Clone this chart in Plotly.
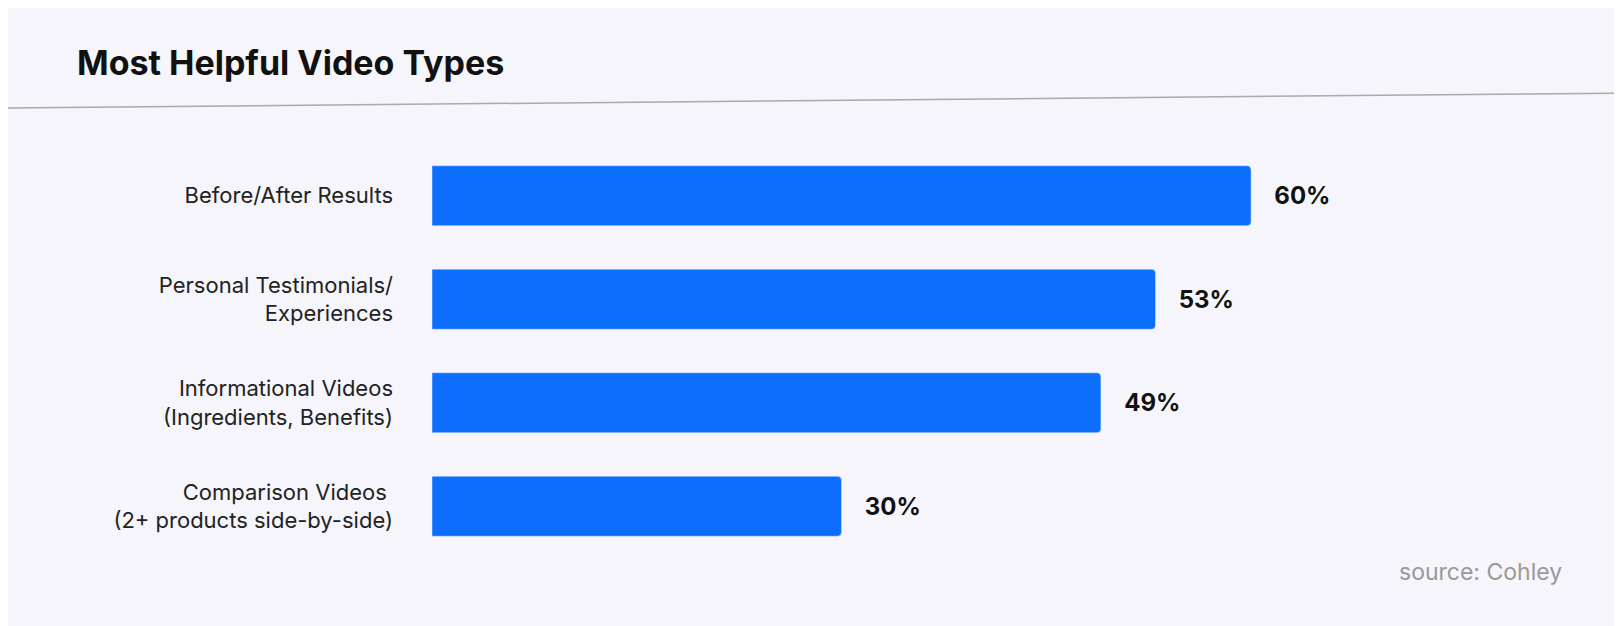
import plotly.graph_objects as go

categories = ["Before/After Results", "Personal Testimonials/<br>Experiences",
              "Informational Videos<br>(Ingredients, Benefits)",
              "Comparison Videos <br>(2+ products side-by-side)"]
values = [60, 53, 49, 30]
labels = ["60%", "53%", "49%", "30%"]

W, H = 1622, 626
bg = "#f5f5fb"
L, R, T, B = 424, 24, 136, 76
PW, PH = W - L - R, H - T - B

fig = go.Figure()
fig.add_trace(go.Bar(
    x=values, y=categories, orientation="h",
    marker=dict(color="#0d6efd", cornerradius=4),
    width=0.58,
    text=["\u00a0\u00a0\u00a0<b>%s</b>" % t for t in labels],
    textposition="outside", cliponaxis=False,
    textfont=dict(family="Inter", size=24, color="#111"),
    hoverinfo="skip",
))

fig.update_layout(
    width=W, height=H,
    paper_bgcolor="white", plot_bgcolor=bg,
    margin=dict(l=L, r=R, t=T, b=B),
    showlegend=False,
    font=dict(family="Inter", color="#222"),
    xaxis=dict(range=[0, 86], visible=False),
    yaxis=dict(autorange="reversed", showgrid=False, zeroline=False,
               tickfont=dict(size=22, color="#222"), ticklabelstandoff=38),
    shapes=[
        dict(type="rect", xref="x domain", yref="y domain", x0=-L/PW, x1=1+R/PW,
             y0=-B/PH, y1=1+T/PH, fillcolor=bg, line=dict(width=0), layer="below"),
        dict(type="line", xref="x domain", yref="y domain", x0=-L/PW, x1=1+R/PW,
             y0=1+(T-100)/PH, y1=1+(T-85)/PH, line=dict(color="#aaaaaa", width=1.5)),
    ],
    annotations=[
        dict(text="<b>Most Helpful Video Types</b>", xref="paper", yref="paper",
             x=-(L-67)/PW, y=1+(T-54)/PH, xanchor="left", yanchor="middle",
             showarrow=False, font=dict(size=34, color="#111")),
        dict(text="source: Cohley", xref="paper", yref="paper",
             x=(1556-L)/PW, y=-(564-(H-B))/PH, xanchor="right", yanchor="middle",
             showarrow=False, font=dict(size=23, color="#999")),
    ],
)

fig.write_html("out.html")
